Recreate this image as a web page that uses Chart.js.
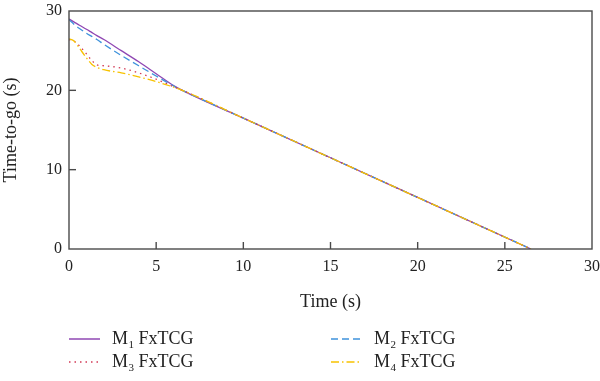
<!DOCTYPE html>
<html>
<head>
<meta charset="utf-8">
<script src="https://cdn.jsdelivr.net/npm/chart.js@4/dist/chart.umd.min.js"></script>
<style>
  html, body { margin: 0; padding: 0; background: #ffffff; }
  #wrap { width: 600px; height: 381px; }
</style>
</head>
<body>
<div id="wrap"><canvas id="c" width="600" height="381"></canvas></div>
<script>
// ---- data ----
const timeS = [0, 0.3, 0.6, 1.0, 1.3, 1.6, 2.0, 3.0, 4.0, 5.0, 6.0, 6.5, 10, 15, 20, 26.5];
const m1Values = [29.0, 28.6, 28.2, 27.7, 27.3, 26.9, 26.4, 25.0, 23.6, 22.1, 20.6, 20.0, 16.5, 11.5, 6.5, 0];
const m2Values = [28.9, 28.3, 27.8, 27.2, 26.8, 26.4, 25.8, 24.4, 23.1, 21.8, 20.55, 20.0, 16.5, 11.5, 6.5, 0];
const m3Values = [26.4, 26.2, 25.6, 24.6, 23.8, 23.2, 23.1, 22.8, 22.2, 21.4, 20.45, 20.0, 16.5, 11.5, 6.5, 0];
const m4Values = [26.5, 26.2, 25.3, 24.1, 23.3, 22.9, 22.6, 22.2, 21.7, 21.1, 20.4, 20.0, 16.5, 11.5, 6.5, 0];
const seriesNames = ["M1 FxTCG", "M2 FxTCG", "M3 FxTCG", "M4 FxTCG"];
const xTicks = [0, 5, 10, 15, 20, 25, 30];
const yTicks = [0, 10, 20, 30];
const xTitle = "Time (s)";
const yTitle = "Time-to-go (s)";

const colors = ["#8f47b3", "#3f93dc", "#d23a55", "#f7c200"];
const dashes = [[], [7, 4], [1.5, 4], [8, 3, 1.5, 3]];

const FONT = "'Liberation Serif', 'Times New Roman', serif";
const AXIS = "#4a4a4a";

function pts(vals) { return timeS.map((t, i) => ({ x: t, y: vals[i] })); }
const allVals = [m1Values, m2Values, m3Values, m4Values];

const datasets = allVals.map((v, i) => ({
  label: seriesNames[i],
  data: pts(v),
  borderColor: colors[i],
  backgroundColor: colors[i],
  borderWidth: 1.3,
  borderDash: dashes[i],
  pointRadius: 0,
  cubicInterpolationMode: 'monotone',
  fill: false,
  order: 4 - i
}));

const framePlugin = {
  id: 'frame',
  afterDatasetsDraw(chart) {
    const { ctx, chartArea: a, scales } = chart;
    ctx.save();
    ctx.strokeStyle = AXIS;
    ctx.lineWidth = 1.4;
    ctx.setLineDash([]);
    ctx.strokeRect(a.left, a.top, a.right - a.left, a.bottom - a.top);
    const tl = 7;
    xTicks.forEach(v => {
      if (v === xTicks[0] || v === xTicks[xTicks.length - 1]) return;
      const x = scales.x.getPixelForValue(v);
      ctx.beginPath(); ctx.moveTo(x, a.bottom); ctx.lineTo(x, a.bottom - tl); ctx.stroke();
    });
    yTicks.forEach(v => {
      if (v === yTicks[0] || v === yTicks[yTicks.length - 1]) return;
      const y = scales.y.getPixelForValue(v);
      ctx.beginPath(); ctx.moveTo(a.left, y); ctx.lineTo(a.left + tl, y); ctx.stroke();
    });
    ctx.restore();
  },
  afterDraw(chart) {
    const { ctx } = chart;
    const cols = [{ x0: 69, x1: 100, tx: 112 }, { x0: 331, x1: 362, tx: 374 }];
    const rows = [339, 362];
    ctx.save();
    [0, 1, 2, 3].forEach((di, k) => {
      const c = cols[k % 2], y = rows[Math.floor(k / 2)];
      ctx.strokeStyle = colors[di];
      ctx.lineWidth = 1.5;
      ctx.setLineDash(dashes[di]);
      ctx.beginPath(); ctx.moveTo(c.x0, y); ctx.lineTo(c.x1, y); ctx.stroke();
      ctx.setLineDash([]);
      ctx.fillStyle = "#222";
      ctx.textBaseline = "middle";
      ctx.textAlign = "left";
      const name = seriesNames[di];
      const head = name.charAt(0), sub = name.charAt(1), rest = name.slice(2);
      ctx.font = "18px " + FONT;
      ctx.fillText(head, c.tx, y);
      let x = c.tx + ctx.measureText(head).width;
      ctx.font = "11px " + FONT;
      ctx.fillText(sub, x + 0.5, y + 6);
      x += ctx.measureText(sub).width + 0.5;
      ctx.font = "18px " + FONT;
      ctx.fillText(rest, x, y);
    });
    ctx.restore();
  }
};

new Chart(document.getElementById('c'), {
  type: 'line',
  data: { datasets },
  plugins: [framePlugin],
  options: {
    responsive: false,
    animation: false,
    devicePixelRatio: 1,
    layout: { padding: { top: 11, right: 8, left: 0, bottom: 0 } },
    plugins: { legend: { display: false }, tooltip: { enabled: false } },
    scales: {
      x: {
        type: 'linear', min: 0, max: 30,
        afterBuildTicks(s) { s.ticks = xTicks.map(v => ({ value: v })); },
        afterFit(s) { s.height = 132; s.paddingLeft = 0; s.paddingRight = 0; },
        grid: { display: false, drawTicks: false },
        border: { display: false },
        ticks: { color: "#222", font: { family: FONT, size: 16 }, padding: 8, maxRotation: 0 },
        title: { display: true, text: xTitle, color: "#222", font: { family: FONT, size: 18 }, padding: { top: 0, bottom: 68 } }
      },
      y: {
        type: 'linear', min: 0, max: 30,
        afterBuildTicks(s) { s.ticks = yTicks.map(v => ({ value: v })); },
        afterFit(s) { s.width = 69; s.paddingTop = 0; s.paddingBottom = 0; },
        grid: { display: false, drawTicks: false },
        border: { display: false },
        ticks: { color: "#222", font: { family: FONT, size: 16 }, padding: 7 },
        title: { display: true, text: yTitle, color: "#222", font: { family: FONT, size: 18 }, padding: { top: 0, bottom: 0 } }
      }
    }
  }
});
</script>
</body>
</html>
